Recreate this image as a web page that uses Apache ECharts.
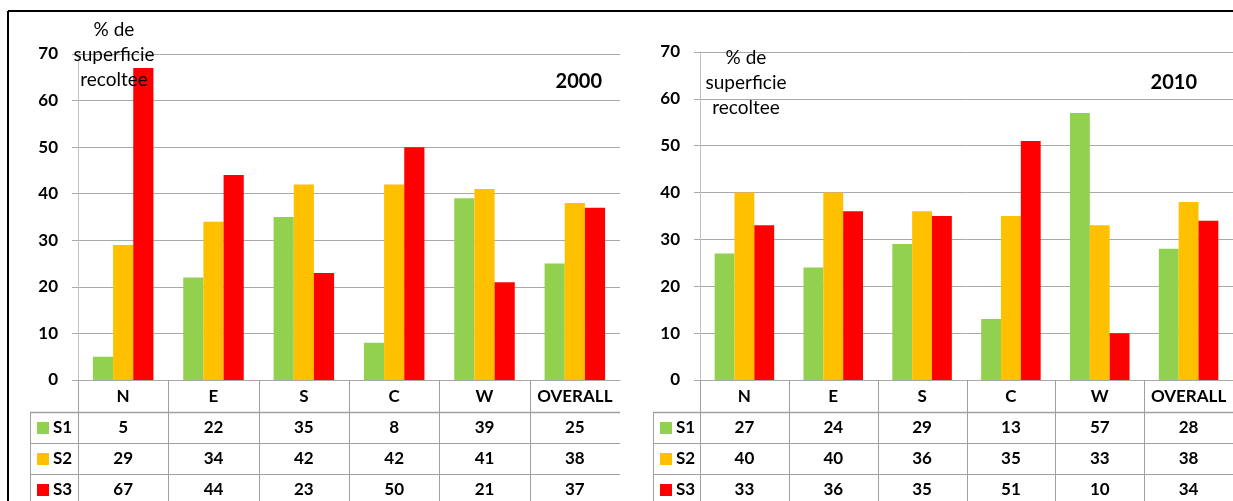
<!DOCTYPE html>
<html>
<head>
<meta charset="utf-8">
<script src="https://cdn.jsdelivr.net/npm/echarts@6/dist/echarts.min.js"></script>
<style>
  html, body { margin: 0; padding: 0; background: #ffffff; }
  #chart { width: 1233px; height: 501px; }
</style>
</head>
<body>
<div id="chart"></div>
<script>
// Regions and share of harvested area (%) per scenario
const categories = ['N', 'E', 'S', 'C', 'W', 'OVERALL'];
const seriesNames = ['S1', 'S2', 'S3'];
const seriesColors = ['#92D050', '#FFC000', '#FF0000'];

const s1Year2000 = [5, 22, 35, 8, 39, 25];
const s2Year2000 = [29, 34, 42, 42, 41, 38];
const s3Year2000 = [67, 44, 23, 50, 21, 37];

const s1Year2010 = [27, 24, 29, 13, 57, 28];
const s2Year2010 = [40, 40, 36, 35, 33, 38];
const s3Year2010 = [33, 36, 35, 51, 10, 34];

const yearLabels = ['2000', '2010'];
const axisTitle = '% de\nsuperficie\nrecoltee';
const yMin = 0, yMax = 70, yStep = 10;

const FONT = 'Lato, "Open Sans", sans-serif';
const GRID_COLOR = '#a9a9a9';
const TABLE_COLOR = '#a0a0a0';

// panel layout: plot grid + data table underneath
const panels = [
  { year: yearLabels[0], rows: [s1Year2000, s2Year2000, s3Year2000],
    grid: { left: 78, top: 54, width: 542, height: 326 },
    legendLeft: 30, titleX: 114, titleY: 55, yearX: 602, yearY: 82 },
  { year: yearLabels[1], rows: [s1Year2010, s2Year2010, s3Year2010],
    grid: { left: 700, top: 52, width: 536, height: 328 },
    legendLeft: 653, titleX: 746, titleY: 83, yearX: 1197, yearY: 83 }
];

const chart = echarts.init(document.getElementById('chart'), null, { renderer: 'canvas' });

const option = {
  animation: false,
  backgroundColor: '#ffffff',
  grid: panels.map(p => Object.assign({ containLabel: false }, p.grid)),
  xAxis: panels.map((p, i) => ({
    type: 'category',
    gridIndex: i,
    data: categories,
    boundaryGap: true,
    axisLine: { show: true, lineStyle: { color: GRID_COLOR, width: 1 } },
    axisTick: { show: false },
    axisLabel: {
      interval: 0, margin: 17, verticalAlign: 'middle',
      color: '#000', fontFamily: FONT, fontWeight: 'bold', fontSize: 17
    }
  })),
  yAxis: panels.map((p, i) => ({
    type: 'value',
    gridIndex: i,
    min: yMin, max: yMax, interval: yStep,
    axisLine: { show: true, lineStyle: { color: '#c0c0c0', width: 1 } },
    axisTick: { show: true, length: 6, lineStyle: { color: GRID_COLOR } },
    splitLine: { show: true, lineStyle: { color: GRID_COLOR, width: 1 } },
    axisLabel: {
      margin: 20, color: '#000', fontFamily: FONT, fontWeight: 'bold', fontSize: 17
    }
  })),
  series: []
};

panels.forEach((p, pi) => {
  p.rows.forEach((vals, si) => {
    option.series.push({
      type: 'bar',
      name: seriesNames[si],
      xAxisIndex: pi,
      yAxisIndex: pi,
      data: vals,
      barGap: '0%',
      barCategoryGap: '33%',
      itemStyle: { color: seriesColors[si] }
    });
  });
});

chart.setOption(option);

// Data table, titles and frame drawn as graphic elements aligned on the axes
function buildGraphics() {
  const g = [];
  const tableTop = 380;
  const headerH = 32;
  const rowH = 31;
  const bottom = 501;

  panels.forEach((p, pi) => {
    const x0 = chart.convertToPixel({ xAxisIndex: pi }, categories[0]);
    const x1 = chart.convertToPixel({ xAxisIndex: pi }, categories[1]);
    const band = x1 - x0;
    const left = x0 - band / 2;
    const right = left + band * categories.length;
    const base = chart.convertToPixel({ yAxisIndex: pi }, 0);

    // vertical separators between columns
    for (let i = 0; i < categories.length; i++) {
      const x = Math.round(left + band * i) + 0.5;
      g.push({ type: 'line', silent: true, z: 5,
        shape: { x1: x, y1: base, x2: x, y2: bottom },
        style: { stroke: TABLE_COLOR, lineWidth: 1 } });
    }
    // legend column left edge
    const lx = p.legendLeft + 0.5;
    g.push({ type: 'line', silent: true, z: 5,
      shape: { x1: lx, y1: tableTop + headerH, x2: lx, y2: bottom },
      style: { stroke: TABLE_COLOR, lineWidth: 1 } });

    // horizontal rules and rows
    p.rows.forEach((vals, si) => {
      const yTop = tableTop + headerH + rowH * si;
      const yl = yTop + 0.5;
      g.push({ type: 'line', silent: true, z: 5,
        shape: { x1: p.legendLeft, y1: yl, x2: right, y2: yl },
        style: { stroke: TABLE_COLOR, lineWidth: si === 0 ? 1.5 : 1 } });
      const cy = yTop + rowH / 2;
      // legend key
      g.push({ type: 'rect', silent: true, z: 6,
        shape: { x: p.legendLeft + 7, y: Math.round(cy - 6), width: 12, height: 12 },
        style: { fill: seriesColors[si] } });
      g.push({ type: 'text', silent: true, z: 6,
        x: p.legendLeft + 23, y: cy,
        style: { text: seriesNames[si], fill: '#000', font: 'bold 17px ' + FONT,
                 textAlign: 'left', textVerticalAlign: 'middle' } });
      vals.forEach((v, ci) => {
        const cx = chart.convertToPixel({ xAxisIndex: pi }, categories[ci]);
        g.push({ type: 'text', silent: true, z: 6,
          x: cx, y: cy,
          style: { text: String(v), fill: '#000', font: 'bold 17px ' + FONT,
                   textAlign: 'center', textVerticalAlign: 'middle' } });
      });
    });

    // axis title and year tag
    g.push({ type: 'text', silent: true, z: 20,
      x: p.titleX, y: p.titleY,
      style: { text: axisTitle, fill: '#000', font: '19px ' + FONT, lineHeight: 25,
               textAlign: 'center', textVerticalAlign: 'middle' } });
    g.push({ type: 'text', silent: true, z: 20,
      x: p.yearX, y: p.yearY,
      style: { text: p.year, fill: '#000', font: 'bold 20px ' + FONT,
               textAlign: 'right', textVerticalAlign: 'middle' } });
  });

  // outer frame (top and left edges)
  g.push({ type: 'line', silent: true, z: 30,
    shape: { x1: 8, y1: 11, x2: 1233, y2: 11 },
    style: { stroke: '#000', lineWidth: 2 } });
  g.push({ type: 'line', silent: true, z: 30,
    shape: { x1: 8, y1: 11, x2: 8, y2: 501 },
    style: { stroke: '#000', lineWidth: 2 } });

  chart.setOption({ graphic: g });
}

buildGraphics();
</script>
</body>
</html>
